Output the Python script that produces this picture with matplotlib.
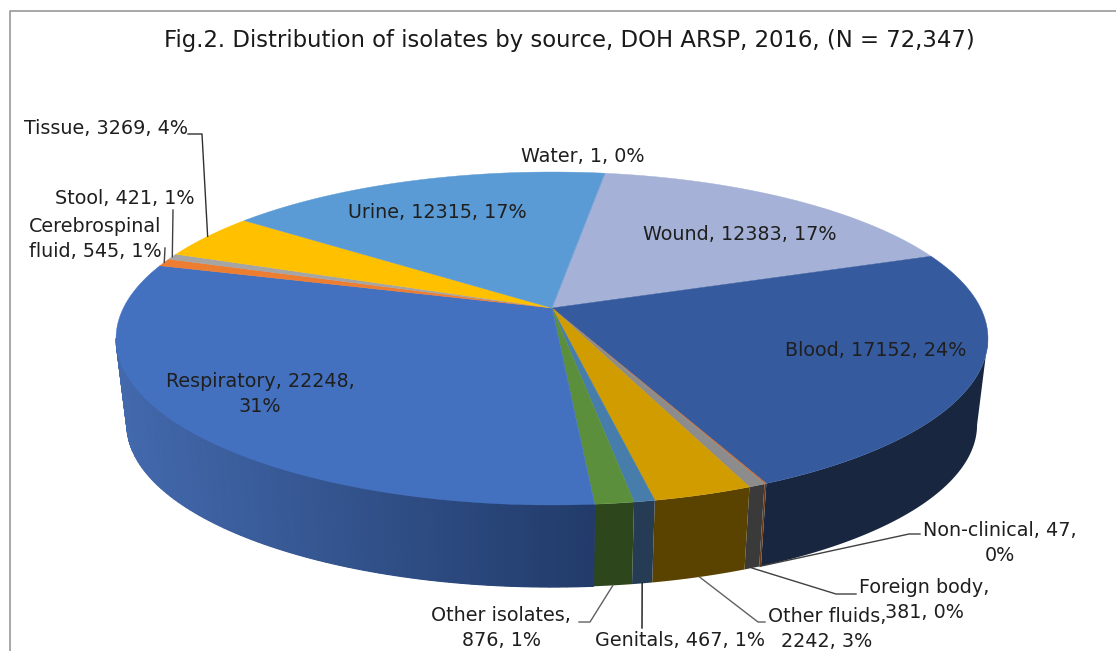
"""Distribution of isolates by source, drawn as a tilted 3D pie."""

import numpy as np
import matplotlib
matplotlib.use('Agg')
import matplotlib.pyplot as plt

W, H = 1116, 651

TITLE = 'Fig.2. Distribution of isolates by source, DOH ARSP, 2016, (N = 72,347)'
SOURCES = ['Wound', 'Blood', 'Non-clinical', 'Foreign body', 'Other fluids',
           'Genitals', 'Other isolates', 'Respiratory', 'Cerebrospinal fluid',
           'Stool', 'Tissue', 'Urine', 'Water']
COUNTS = [12383, 17152, 47, 381, 2242, 467, 876, 22248, 545, 421, 3269, 12315, 1]
TOP_COLORS = ['#a5b1d6', '#355b9e', '#c8703a', '#8c8c8c', '#d09c00', '#477dab',
              '#5c8f3c', '#4371c0', '#ed7d31', '#a5a5a5', '#ffc000', '#5b9bd5',
              '#80a6d6']
WALL_LEFT = ['#5a6480', '#18263f', '#6a3a18', '#3a3a3a', '#5a4300', '#263c55',
             '#2e461c', '#4369ad', '#a0561f', '#707070', '#a07800', '#3c6c96',
             '#1a2f52']
WALL_RIGHT = ['#5a6480', '#18263f', '#6a3a18', '#3a3a3a', '#5a4300', '#263c55',
              '#2e461c', '#213a69', '#a0561f', '#707070', '#a07800', '#3c6c96',
              '#1a2f52']

# text, centre x, centre y
LABELS = [
    ('Water, 1, 0%', 583, 156),
    ('Urine, 12315, 17%', 437, 212),
    ('Wound, 12383, 17%', 740, 234),
    ('Blood, 17152, 24%', 876, 350),
    ('Respiratory, 22248,\n31%', 260, 394),
    ('Tissue, 3269, 4%', 106, 128),
    ('Stool, 421, 1%', 125, 198),
    ('Cerebrospinal\nfluid, 545, 1%', 95, 239),
    ('Non-clinical, 47,\n0%', 1000, 543),
    ('Foreign body,\n381, 0%', 924, 600),
    ('Other fluids,\n2242, 3%', 827, 629),
    ('Genitals, 467, 1%', 680, 640),
    ('Other isolates,\n876, 1%', 501, 628),
]
# slice index, on bottom rim, elbow points from the label towards the slice
LEADERS = [
    (10, False, [(188, 134), (202, 134)], '#303030'),
    (9, False, [(173, 210)], '#404040'),
    (8, False, [(165, 248)], '#404040'),
    (2, True, [(920, 534), (909, 534)], '#404040'),
    (3, True, [(856, 594), (836, 594)], '#404040'),
    (4, True, [(765, 622), (758, 622)], '#606060'),
    (5, True, [(642, 628)], '#101010'),
    (6, True, [(579, 622), (590, 622)], '#606060'),
]

CX, TOP_Y, BOTTOM_Y = 552, 308, 395
RX, RY, PERSP = 428.6, 160.9, 0.1832
BOTTOM_SCALE = 0.975
START_DEG = 8.4
# the wall outline turns at these angles, where the disc is widest on screen
SIL_A = np.arccos(-PERSP)
SIL_B = 2 * np.pi - SIL_A


def project(theta, cy, scale=1.0):
  """Map clockwise-from-top angles on the disc to pixel positions."""
  x, y = np.sin(theta), np.cos(theta)
  w = 1 + PERSP * y
  return CX + scale * RX * x / w, cy - scale * RY * y / w


def to_rgb(hex_color):
  return np.array(matplotlib.colors.to_rgb(hex_color))


def wall_points(a, b):
  """Outline of the outer wall between two angles."""
  t = np.linspace(a, b, max(2, int(np.degrees(b - a)) + 2))
  x0, y0 = project(t, TOP_Y)
  x1, y1 = project(t[::-1], BOTTOM_Y, BOTTOM_SCALE)
  return np.r_[x0, x1], np.r_[y0, y1]


fracs = np.array(COUNTS) / sum(COUNTS)
edges = np.radians(START_DEG) + 2 * np.pi * np.concatenate([[0], np.cumsum(fracs)])

fig = plt.figure(figsize=(W / 100, H / 100), dpi=100)
ax = fig.add_axes([0, 0, 1, 1])
ax.set_xlim(0, W)
ax.set_ylim(H, 0)
ax.axis('off')

# chart frame, cut by the picture at right and bottom
ax.plot([9.5, 9.5, W + 5], [H + 5, 10.5, 10.5], color='#8f8f8f', lw=1.1, zorder=1)

# outer wall, front part only
for i in range(len(COUNTS)):
  a = max(edges[i], SIL_A)
  b = min(edges[i + 1], SIL_B)
  if a >= b:
    continue
  left, right = to_rgb(WALL_LEFT[i]), to_rgb(WALL_RIGHT[i])
  xs, ys = wall_points(a, b)
  ax.fill(xs, ys, color=(left + right) / 2, lw=0, zorder=2)
  if WALL_LEFT[i] == WALL_RIGHT[i]:
    continue
  # shaded wall: overlapping strips over the solid backing
  t = np.linspace(a, b, int(np.degrees(b - a)) + 2)
  for p, q in zip(t[:-1], t[1:]):
    x0, _ = project(np.array([(p + q) / 2]), TOP_Y)
    mix = np.clip((x0[0] - 120) / (600 - 120), 0, 1)
    xs, ys = wall_points(p, q)
    ax.fill(xs, ys, color=left + (right - left) * mix, lw=0.8, zorder=2)

# top face
for i in range(len(COUNTS)):
  steps = max(2, int(np.degrees(edges[i + 1] - edges[i])))
  t = np.linspace(edges[i], edges[i + 1], steps + 1)
  x, y = project(t, TOP_Y)
  ax.fill(np.r_[CX, x], np.r_[TOP_Y, y], color=TOP_COLORS[i], lw=0.3, zorder=3)

# leader lines run from the label to the middle of their slice
for idx, on_bottom, elbow, color in LEADERS:
  mid = np.array([(edges[idx] + edges[idx + 1]) / 2])
  if on_bottom:
    ex, ey = project(mid, BOTTOM_Y, BOTTOM_SCALE)
  else:
    ex, ey = project(mid, TOP_Y)
  xs = [p[0] for p in elbow] + [ex[0]]
  ys = [p[1] for p in elbow] + [ey[0]]
  ax.plot(xs, ys, color=color, lw=1.0, zorder=4)

ax.text(569, 40, TITLE, ha='center', va='center', fontsize=16.4,
        color='#1a1a1a', family='DejaVu Sans', zorder=5)
for text, x, y in LABELS:
  ax.text(x, y, text, ha='center', va='center', fontsize=13.8, color='#1f1f1f',
          family='DejaVu Sans', linespacing=1.4, zorder=5)

fig.savefig('out.png', dpi=100)
